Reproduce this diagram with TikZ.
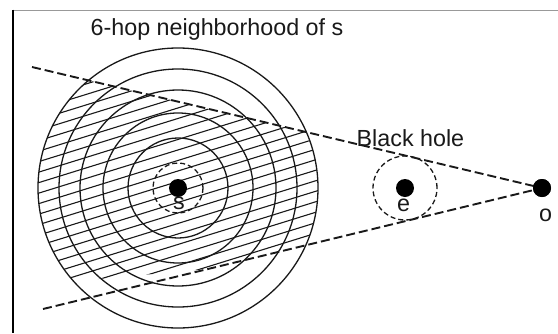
\documentclass[tikz,border=0pt]{standalone}
\usepackage{fontspec}
\setmainfont{Liberation Sans}
\begin{document}
\begin{tikzpicture}[x=1pt,y=-1pt,
  dot/.style={circle,fill=black,inner sep=0pt,minimum size=18pt},
  ring/.style={draw=black!90,line width=1.3pt},
  hatchline/.style={draw=black!90,line width=1.1pt},
  cone/.style={draw=black!90,line width=1.9pt,dash pattern=on 9pt off 4pt},
  hop/.style={draw=black!90,line width=1.3pt,dash pattern=on 5pt off 3pt},
  lbl/.style={font=\fontsize{23.3}{28}\selectfont,text=black!90,inner sep=0pt}]
\useasboundingbox (0,0) rectangle (558,333);
% frame
\draw[black!40,line width=1pt] (13,10) -- (558,10);
\draw[line width=2pt] (13,9.5) -- (13,333);
% named points
\coordinate (sc) at (178,188);
\coordinate (ec) at (405,188);
\coordinate (oc) at (542,188);
\coordinate (ua) at (32,67);
\coordinate (la) at (43,309);
% hatching: disk of s inside the cone
\begin{scope}
  \clip (sc) circle[radius=140pt];
  \clip (0,59.5) -- (oc) -- (200,269.7) -- (0,288) -- cycle;
  \foreach \k in {-21,...,6}{
    \draw[hatchline] (20,{277+10.5*\k+16.43}) -- (340,{277+10.5*\k-82.77});
  }
\end{scope}
% hop rings
\foreach \r in {50,75,98,119,140}{
  \draw[ring] (sc) circle[radius=\r pt];
}
\draw[hop] (sc) circle[radius=25pt];
\draw[hop] (ec) circle[radius=32pt];
% nodes
\node[dot] (s) at (sc) {};
\node[dot] (e) at (ec) {};
\node[dot] (o) at (oc) {};
% cone lines
\draw[cone] (ua) -- (o.center);
\draw[cone] (la) -- (o.center);
\node[dot] at (oc) {};
% labels
\node[lbl] (sl) at (179,203) {s};
\node[lbl] (el) at (403.5,205) {e};
\node[lbl] (ol) at (545.5,215) {o};
\node[lbl,anchor=base west] (title) at (90.5,35.5) {6-hop neighborhood of s};
\node[lbl,anchor=base west] (bh) at (356.5,146) {Black hole};
\end{tikzpicture}
\end{document}
